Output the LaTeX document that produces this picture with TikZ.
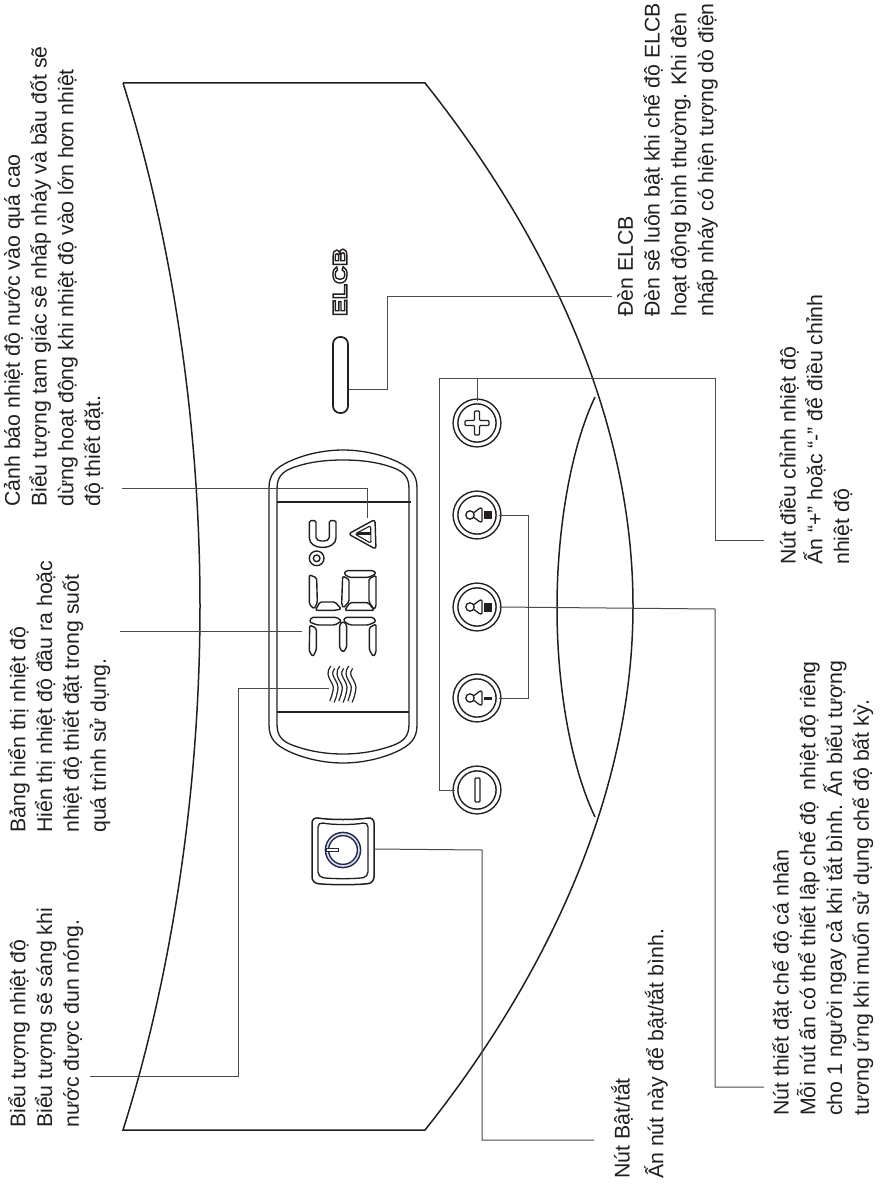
\documentclass[tikz,border=0pt]{standalone}
\usepackage{fontspec}
\setmainfont{Liberation Sans}
\newfontfamily\elcbfont[FakeStretch=1.25]{Liberation Sans Bold}
\usetikzlibrary{calc,positioning}
\definecolor{inkdark}{HTML}{231F20}
\definecolor{leadgray}{HTML}{4A4A4A}
\definecolor{ringnavy}{HTML}{1F2A3C}

\begin{document}
\begin{tikzpicture}[x=1pt,y=-1pt,
    infotext/.style={rotate=90,anchor=north west,inner sep=0pt,align=left,text=inkdark,
      font=\fontsize{21.3}{26.8}\selectfont,execute at begin node={\rule{0pt}{18pt}}},
    body/.style={draw=inkdark,line width=1.5pt},
    leader/.style={draw=leadgray,line width=1pt},
    panel/.style={draw=inkdark,line width=1.3pt},
    seg/.style={draw=inkdark,line width=1.4pt,rounded corners=1.5pt,line join=round},
    roundbtn/.style={circle,draw=inkdark,line width=1.5pt,double,double distance=3.2pt,
      minimum size=43pt,inner sep=0pt},
    btnicon/.style={draw=inkdark,line width=1.3pt,rounded corners=1pt}]
    \useasboundingbox (0,0) rectangle (880,1185);

    \draw [body] (123,83) -- (425,83) .. controls (530,215) and (633,400) .. (633,606)
                 .. controls (633,812) and (530,998) .. (425,1130) -- (123,1130)
                 .. controls (168,988) and (200,802) .. (200,606)
                 .. controls (200,410) and (168,225) .. (123,83);
    \draw [body] (595,397) .. controls (572,445) and (557,525) .. (557,608)
                 .. controls (557,691) and (572,769) .. (595,817);

    \node [roundbtn] (plusbtn)  at (477,423) {};
    \node [roundbtn] (modea)    at (477,515) {};
    \node [roundbtn] (modeb)    at (477,607) {};
    \node [roundbtn] (modec)    at (477,698) {};
    \node [roundbtn] (minusbtn) at (477,790) {};
    \node [draw=inkdark,line width=1.7pt,rounded corners=7pt,minimum width=15pt,
           minimum height=76pt,inner sep=0pt] (ledlamp) at (340.5,375) {};
    \node [minimum width=62pt,minimum height=68pt,inner sep=0pt] (powerbtn) at (343,849) {};

    \draw [btnicon] (474.5,411) -- (479.5,411) -- (479.5,420.5) -- (489,420.5) -- (489,425.5)
                    -- (479.5,425.5) -- (479.5,435) -- (474.5,435) -- (474.5,425.5)
                    -- (465,425.5) -- (465,420.5) -- (474.5,420.5) -- cycle;
    \draw [btnicon] (475,778) rectangle (480,802);
    \foreach \btn/\hh in {modea/3.7,modeb/4.5,modec/1.5} {
      \draw [btnicon] ($(\btn)+(-7,0)$) circle (4.2);
      \draw [btnicon] ($(\btn)+(-3,-2.5)$) -- ($(\btn)+(3,-7)$) -- ($(\btn)+(5,-7)$)
            -- ($(\btn)+(5,7)$) -- ($(\btn)+(3,7)$) -- ($(\btn)+(-3,2.5)$);
      \fill [inkdark] ($(\btn)+(6.5,-\hh)$) rectangle ($(\btn)+(14.5,\hh)$);
    }

    \draw [panel] (269,488) .. controls (269,474) and (276,468) .. (288,462)
                  .. controls (305,454) and (325,450) .. (343,450)
                  .. controls (361,450) and (381,454) .. (398,462)
                  .. controls (410,468) and (417,474) .. (417,488) -- (417,725)
                  .. controls (417,739) and (410,745) .. (398,751)
                  .. controls (381,759) and (361,763) .. (343,763)
                  .. controls (325,763) and (305,759) .. (288,751)
                  .. controls (276,745) and (269,739) .. (269,725) -- cycle;
    \draw [panel] (277,489) .. controls (277,477) and (282,472) .. (292,468)
                  .. controls (308,462) and (325,460) .. (343,460)
                  .. controls (361,460) and (378,462) .. (394,468)
                  .. controls (404,472) and (409,477) .. (409,489) -- (409,724)
                  .. controls (409,736) and (404,741) .. (394,745)
                  .. controls (378,751) and (361,754) .. (343,754)
                  .. controls (325,754) and (308,751) .. (292,745)
                  .. controls (282,741) and (277,736) .. (277,724) -- cycle;
    \draw [panel] (277,502) -- (411,502);
    \draw [panel] (277,712) -- (409,712);

    \begin{scope}[shift={(240,460)},x=0.3333pt,y=-0.3333pt]
      \draw [seg] (208,182) -- (228,182) -- (228,228) .. controls (228,240) and (238,243) .. (248,243)
                  .. controls (258,243) and (268,240) .. (268,228) -- (268,182) -- (288,182) -- (288,230)
                  .. controls (288,252) and (268,262) .. (248,262)
                  .. controls (228,262) and (208,252) .. (208,230) -- cycle;
      \draw [seg] (230,295) circle (22);
      \draw [seg] (230,295) circle (10);
      \draw [seg,rounded corners=3pt] (325,222) -- (405,178) -- (408,268) -- cycle;
      \draw [seg,line width=1.1pt] (345,222) -- (392,197) -- (393,250) -- cycle;
      \fill [inkdark] (352,217) rectangle (392,225);
      \draw [seg] (208,344) -- (230,354) -- (232,428) -- (222,447) -- (208,432) -- cycle;
      \draw [seg] (240,426) -- (285,426) -- (304,447) -- (285,451) -- (226,451) -- cycle;
      \draw [seg] (318,332) -- (402,332) -- (408,342) -- (386,352) -- (328,352) -- (312,342) -- cycle;
      \draw [seg] (408,346) -- (408,440) -- (402,448) -- (387,426) -- (387,356) -- cycle;
      \draw [seg] (308,348) -- (327,358) -- (327,425) -- (310,444) -- (305,432) -- cycle;
      \draw [seg] (330,428) -- (385,428) -- (403,451) -- (314,451) -- cycle;
      \draw [seg] (215,472) -- (290,472) -- (305,483) -- (285,495) -- (232,495) -- (208,486) -- cycle;
      \draw [seg] (316,472) -- (400,472) -- (408,485) -- (385,495) -- (330,495) -- (310,483) -- cycle;
      \draw [seg] (209,495) -- (229,505) -- (229,570) -- (219,590) -- (208,575) -- cycle;
      \draw [seg] (299,494) -- (309,484) -- (320,494) -- (320,562) -- (310,577) -- (299,565) -- cycle;
      \draw [seg] (388,503) -- (408,492) -- (408,578) -- (400,590) -- (388,570) -- cycle;
      \foreach \wave in {0,27,54} {
        \draw [draw=inkdark,line width=1.3pt,double,double distance=3.2pt]
              (278+\wave,622) .. controls (256+\wave,650) and (294+\wave,665) .. (286+\wave,692)
              .. controls (283+\wave,705) and (281+\wave,715) .. (276+\wave,725);
      }
    \end{scope}

    \node [rotate=90,inner sep=0pt,text=inkdark] (elcbmark) at (340,282)
          {\elcbfont\fontsize{20}{20}\selectfont\special{pdf:code 1 Tr 1.4 w}ELCB\special{pdf:code 0 Tr}};

    \draw [draw=inkdark,line width=1.5pt,rounded corners=6pt]
          (312,817) .. controls (330,820) and (356,820) .. (374,817) -- (374,883)
          .. controls (356,885) and (330,885) .. (312,883) -- cycle;
    \draw [draw=inkdark,line width=1.3pt,rounded corners=5pt]
          (318,822) .. controls (332,825) and (354,825) .. (368,822) -- (368,877)
          .. controls (354,879) and (332,879) .. (318,877) -- cycle;
    \node [circle,draw=ringnavy,line width=1.5pt,double=white!85!blue,double distance=1.6pt,
           minimum size=32pt,inner sep=0pt] (powerring) at (343,850) {};
    \node [draw=ringnavy,line width=1.3pt,fill=white,minimum width=12pt,minimum height=3.5pt,
           inner sep=0pt] (powerbar) at (332.5,850) {};

    \node [infotext] (warninfo) at (3.7,507) {Cảnh báo nhiệt độ nước vào quá cao\\
      Biểu tượng tam giác sẽ nhấp nháy và bầu đốt sẽ\\
      dừng hoạt động khi nhiệt độ vào lớn hơn nhiệt\\
      độ thiết đặt.};
    \node [infotext] (screeninfo) at (8,833) {Bảng hiển thị nhiệt độ\\
      Hiển thị nhiệt độ đầu ra hoặc\\
      nhiệt độ thiết đặt trong suốt\\
      quá trình sử dụng.};
    \node [infotext] (heatinfo) at (8,1128) {Biểu tượng nhiệt độ\\
      Biểu tượng sẽ sáng khi\\
      nước được đun nóng.};
    \node [infotext] (powerinfo) at (611,1179) {Nút Bật/tắt\\[7pt]
      Ấn nút này để bật/tắt bình.};
    \node [infotext] (modeinfo) at (772,1116) {Nút thiết đặt chế độ cá nhân\\
      Mỗi nút ấn có thể thiết lập chế độ\ \ nhiệt độ riêng\\
      cho 1 người ngay cả khi tắt bình. Ấn biểu tượng\\
      tương ứng khi muốn sử dụng chế độ bất kỳ.};
    \node [infotext] (adjustinfo) at (779,565) {Nút điều chỉnh nhiệt độ\\
      Ấn “+” hoặc “-” để điều chỉnh\\
      nhiệt độ};
    \node [infotext] (elcbinfo) at (617,317) {Đèn ELCB\\
      Đèn sẽ luôn bật khi chế độ ELCB\\
      hoạt động bình thường. Khi đèn\\
      nhấp nháy có hiện tượng dò điện};

    \coordinate (warnfree)   at (122,488);
    \coordinate (warnend)    at (367,518);
    \coordinate (screenfree) at (120,631);
    \coordinate (screenend)  at (302,631);
    \coordinate (heatfree)   at (90,1076);
    \coordinate (heatend)    at (329,688);
    \coordinate (heatjog)    at (238,1076);
    \coordinate (powerjog)   at (482,850);
    \coordinate (powerfree)  at (594,1140);
    \coordinate (ledjog)     at (387,389);
    \coordinate (ledfree)    at (612,296);
    \coordinate (adjustfree) at (764,540);
    \coordinate (adjustjog)  at (715,378);
    \coordinate (framejog)   at (439,378);
    \coordinate (modejog)    at (528,513);
    \coordinate (modefree)   at (764,1087);
    \coordinate (modeturn)   at (715,609);

    \draw [leader] (warnfree) -| (warnend);
    \draw [leader] (screenfree) -- (screenend);
    \draw [leader] (heatfree) -- (heatjog) |- (heatend);
    \draw [leader] (powerbtn.east) -- (powerjog) |- (powerfree);
    \draw [leader] (ledjog -| ledlamp.east) -- (ledjog) |- (ledfree);
    \draw [leader] (adjustfree) -| (adjustjog) -- (framejog) |- (minusbtn.west);
    \draw [leader] (plusbtn.north) -- (plusbtn.north |- framejog);
    \draw [leader] (modea.east) -- (modea.east -| modejog) |- (modec.east);
    \draw [leader] (modeb.east) -- (modeturn) |- (modefree);
\end{tikzpicture}
\end{document}
